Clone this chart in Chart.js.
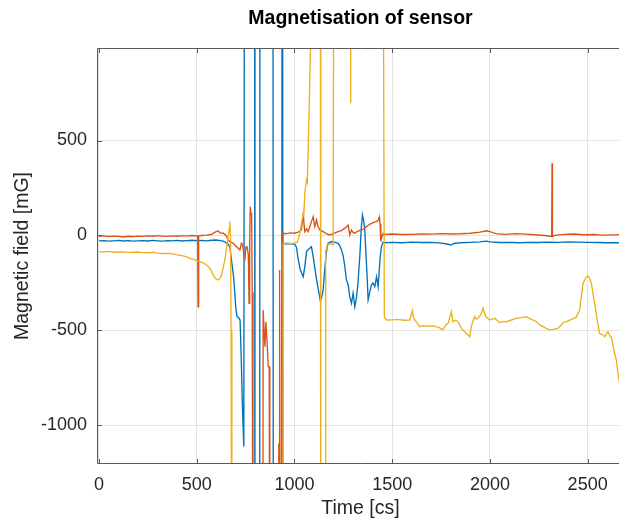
<!DOCTYPE html>
<html>
<head>
<meta charset="utf-8">
<title>Magnetisation of sensor</title>
<script src="https://cdn.jsdelivr.net/npm/chart.js@4.4.1/dist/chart.umd.min.js"></script>
<style>
    html, body { margin: 0; padding: 0; background: #fff; overflow: hidden; }
    #wrap { width: 624px; height: 521px; }
</style>
</head>
<body>
<div id="wrap"><canvas id="magChart" width="624" height="521"></canvas></div>
<script>
// Sensor readings, time in centiseconds, field in mG.
// Values of +/-2500 mean the sensor saturated far outside the plotted range.
const blueTime = [0, 25, 50, 75, 100, 125, 150, 175, 200, 225, 250, 275, 300, 325, 350, 375, 400, 425, 450, 475,
    500, 525, 550, 575, 600, 620, 635, 650, 660, 670, 678, 690, 700, 706, 714, 722, 728, 734, 741, 745,
    796, 798, 822, 824, 890, 892, 935, 937, 939, 941, 960, 980, 1000, 1010, 1020, 1030, 1045, 1053, 1062, 1075,
    1087, 1096, 1104, 1116, 1125, 1133, 1140, 1147, 1155, 1163, 1172, 1190, 1210, 1223, 1232, 1241, 1250, 1258, 1266, 1275,
    1283, 1292, 1300, 1309, 1317, 1325, 1335, 1342, 1348, 1354, 1360, 1366, 1372, 1377, 1385, 1394, 1402, 1411, 1420, 1428,
    1433, 1438, 1445, 1453, 1460, 1500, 1550, 1600, 1650, 1700, 1750, 1780, 1800, 1815, 1850, 1900, 1950, 1980, 2000, 2050,
    2100, 2150, 2200, 2250, 2300, 2350, 2400, 2450, 2500, 2550, 2600, 2650, 2690];
const blueField = [-28, -27, -30, -28, -26, -29, -27, -30, -28, -27, -29, -26, -28, -30, -27, -28, -26, -29, -27, -25,
    -27, -26, -28, -25, -24, -27, -30, -38, -45, -62, -129, -230, -380, -427, -432, -445, -650, -900, -1111, 2500,
    2500, -2500, -2500, 2500, 2500, -2500, -2500, 2500, 2500, -45, -42, -44, -45, -60, -130, -180, -217, -164, -85, -70,
    -59, -111, -170, -250, -300, -348, -320, -287, -180, -90, -41, -32, -36, -41, -55, -76, -110, -164, -234, -260,
    -322, -357, -304, -375, -330, -250, -100, 40, 108, 80, 29, -100, -217, -339, -300, -260, -250, -269, -217, -269,
    -199, -120, -60, -36, -38, -36, -38, -35, -37, -36, -40, -45, -50, -42, -38, -36, -34, -30, -34, -37,
    -36, -38, -36, -37, -35, -36, -34, -35, -36, -37, -38, -38, -39];

const orangeTime = [0, 25, 50, 75, 100, 125, 150, 175, 200, 225, 250, 275, 300, 325, 350, 375, 400, 425, 450, 475,
    500, 505, 507, 510, 525, 550, 575, 590, 602, 610, 620, 636, 650, 661, 670, 687, 700, 712, 721, 729,
    735, 741, 747, 752, 758, 764, 768, 771, 774, 778, 781, 784, 788, 838, 840, 845, 849, 854, 860, 866,
    871, 874, 918, 920, 922, 923, 925, 928, 938, 941, 960, 980, 1000, 1020, 1036, 1045, 1053, 1062, 1070, 1080,
    1090, 1096, 1104, 1113, 1120, 1130, 1147, 1165, 1181, 1200, 1223, 1240, 1260, 1275, 1283, 1292, 1300, 1309, 1320, 1343,
    1355, 1368, 1380, 1394, 1410, 1420, 1428, 1435, 1438, 1442, 1448, 1453, 1470, 1500, 1550, 1600, 1650, 1700, 1750, 1800,
    1850, 1900, 1950, 1982, 2000, 2030, 2080, 2130, 2180, 2230, 2280, 2310, 2316, 2318, 2320, 2340, 2380, 2430, 2480, 2530,
    2580, 2630, 2690];
const orangeField = [-4, -2, -6, -3, -5, -8, -4, -6, -3, -5, -2, -4, -1, -3, -5, -2, -4, -1, -3, 0,
    -2, -2, -375, -2, 0, 2, 5, 15, 22, 24, 14, 12, 0, -24, -32, -41, -55, -67, -76, -41,
    -48, -94, -120, -60, -60, -100, -357, -50, 152, 110, 120, -300, -2500, -2500, -392, -500, -585, -454, -560, -690,
    -690, -2500, -2500, -1094, -2500, -2500, -182, -2500, -2500, 12, 10, 14, 12, 18, 30, 108, 20, 35, 20, 50,
    82, 99, 46, 82, 50, 29, 20, 8, 3, 10, 20, 25, 40, 55, 3, 29, 15, 12, 20, 29,
    35, 46, 55, 64, 70, 73, 80, 99, 60, -32, 0, 10, 6, 8, 5, 6, 8, 7, 10, 8,
    9, 12, 18, 25, 20, 10, 6, 10, 7, 4, 0, -4, -6, 380, -4, 2, 6, 8, 4, 5,
    2, 3, 4];

const yellowTime = [0, 25, 50, 75, 100, 125, 150, 175, 200, 225, 250, 275, 300, 325, 350, 380, 400, 425, 450, 465,
    490, 516, 535, 550, 565, 575, 584, 595, 610, 618, 627, 635, 644, 652, 661, 667, 670, 673, 676, 680,
    940, 943, 960, 980, 1000, 1015, 1028, 1036, 1045, 1048, 1053, 1062, 1066, 1070, 1076, 1082, 1086, 1132, 1135, 1157,
    1160, 1164, 1168, 1175, 1190, 1198, 1203, 1285, 1287, 1289, 1452, 1460, 1471, 1500, 1530, 1560, 1590, 1597, 1603, 1609,
    1616, 1641, 1660, 1680, 1709, 1726, 1740, 1760, 1775, 1786, 1795, 1803, 1811, 1825, 1837, 1854, 1870, 1880, 1897, 1905,
    1913, 1922, 1930, 1939, 1952, 1965, 1972, 1979, 1999, 2012, 2025, 2050, 2070, 2084, 2110, 2135, 2160, 2186, 2210, 2238,
    2255, 2289, 2306, 2323, 2348, 2365, 2374, 2391, 2420, 2442, 2459, 2468, 2476, 2493, 2502, 2510, 2519, 2536, 2548, 2561,
    2578, 2587, 2599, 2604, 2616, 2621, 2638, 2647, 2658, 2670];
const yellowField = [-85, -86, -84, -88, -87, -86, -89, -88, -87, -90, -91, -89, -93, -95, -94, -97, -102, -106, -113, -120,
    -128, -138, -146, -155, -170, -185, -208, -225, -234, -228, -208, -170, -129, -70, -6, 40, 73, 0, -500, -2500,
    -2500, -41, -40, -42, -40, -35, 12, 64, 117, 100, 222, 292, 280, 450, 700, 985, 2500, 2500, -2500, -2500,
    -76, -76, -50, -45, -45, -50, 2500, 2500, 696, 2500, 2500, -430, -445, -444, -442, -446, -445, -420, -396, -430,
    -445, -480, -475, -478, -476, -480, -485, -497, -470, -462, -430, -401, -454, -446, -454, -489, -505, -515, -533, -480,
    -450, -427, -440, -436, -420, -383, -410, -427, -445, -440, -436, -459, -452, -454, -445, -436, -432, -427, -440, -454,
    -471, -489, -497, -494, -489, -471, -459, -454, -440, -430, -392, -320, -252, -217, -214, -225, -252, -360, -440, -515,
    -524, -533, -511, -506, -533, -535, -620, -655, -750, -800];

// axis ticks
const timeTicks = [0, 500, 1000, 1500, 2000, 2500];
const fieldTicks = [-1000, -500, 0, 500];

function points(ts, vs) {
    return ts.map((t, i) => ({x: t, y: vs[i]}));
}

const axisColor = "#595959";
const textColor = "#262626";
const fontFamily = "'Liberation Sans', Arial, Helvetica, sans-serif";

// box round the axes with inward tick marks, and the title above it
const axesBox = {
    id: "axesBox",
    afterDatasetsDraw(chart) {
        const {ctx, chartArea: a, scales} = chart;
        ctx.save();
        ctx.strokeStyle = axisColor;
        ctx.lineWidth = 1;
        ctx.beginPath();
        ctx.moveTo(a.left + 0.5, a.bottom - 0.5);
        ctx.lineTo(a.left + 0.5, a.top + 0.5);
        ctx.lineTo(a.right, a.top + 0.5);
        ctx.moveTo(a.left + 0.5, a.bottom - 0.5);
        ctx.lineTo(a.right, a.bottom - 0.5);
        timeTicks.forEach(v => {
            const x = Math.round(scales.x.getPixelForValue(v)) + 0.5;
            ctx.moveTo(x, a.bottom);
            ctx.lineTo(x, a.bottom - 5);
            ctx.moveTo(x, a.top);
            ctx.lineTo(x, a.top + 5);
        });
        fieldTicks.forEach(v => {
            const y = Math.round(scales.y.getPixelForValue(v)) + 0.5;
            ctx.moveTo(a.left, y);
            ctx.lineTo(a.left + 5, y);
        });
        ctx.stroke();

        ctx.fillStyle = "#000";
        ctx.font = "bold 19.5px " + fontFamily;
        ctx.textAlign = "center";
        ctx.textBaseline = "middle";
        ctx.fillText("Magnetisation of sensor", (a.left + a.right) / 2, 19);
        ctx.restore();
    }
};

const ctx = document.getElementById("magChart").getContext("2d");
new Chart(ctx, {
    type: "line",
    data: {
        datasets: [
            {label: "x", data: points(blueTime, blueField), borderColor: "#0072BD", order: 2},
            {label: "y", data: points(orangeTime, orangeField), borderColor: "#D95319", order: 1},
            {label: "z", data: points(yellowTime, yellowField), borderColor: "#EDB120", order: 0},
        ]
    },
    options: {
        responsive: false,
        animation: false,
        devicePixelRatio: 1,
        layout: {padding: {top: 48, left: 0, right: 0, bottom: 0}},
        elements: {
            point: {radius: 0},
            line: {borderWidth: 1.35, tension: 0, fill: false},
        },
        plugins: {
            legend: {display: false},
            tooltip: {enabled: false},
        },
        scales: {
            x: {
                type: "linear",
                min: -10,
                max: 2686,
                afterFit: s => { s.height = 57; },
                afterBuildTicks: s => { s.ticks = timeTicks.map(v => ({value: v})); },
                grid: {color: "#e3e3e3", drawTicks: false},
                border: {display: false},
                ticks: {
                    padding: 10,
                    color: textColor,
                    font: {family: fontFamily, size: 18},
                    maxRotation: 0,
                    callback: v => String(v),
                },
                title: {
                    display: true,
                    text: "Time [cs]",
                    color: textColor,
                    font: {family: fontFamily, size: 19.5},
                    padding: {top: 0, bottom: 1},
                },
            },
            y: {
                type: "linear",
                min: -1203,
                max: 987,
                afterFit: s => { s.width = 97; },
                afterBuildTicks: s => { s.ticks = fieldTicks.map(v => ({value: v})); },
                grid: {color: "#e3e3e3", drawTicks: false},
                border: {display: false},
                ticks: {
                    padding: 10,
                    color: textColor,
                    font: {family: fontFamily, size: 18},
                    callback: v => String(v),
                },
                title: {
                    display: true,
                    text: "Magnetic field [mG]",
                    color: textColor,
                    font: {family: fontFamily, size: 19.5},
                    padding: {top: 11, bottom: 0},
                },
            },
        },
    },
    plugins: [axesBox],
});
</script>
</body>
</html>
